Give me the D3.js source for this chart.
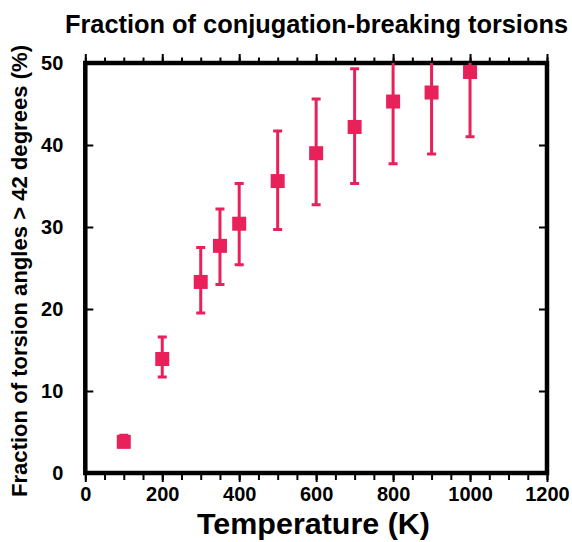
<!DOCTYPE html>
<html>
<head>
<meta charset="utf-8">
<script src="https://cdn.jsdelivr.net/npm/d3@7"></script>
<style>
html,body{margin:0;padding:0;background:#fff;}
svg{display:block;font-family:"Liberation Sans",Arial,sans-serif;font-weight:bold;}
</style>
</head>
<body>
<svg id="chart" width="572" height="542"></svg>
<script>
const temperatures = [100, 200, 300, 350, 400, 500, 600, 700, 800, 900, 1000];
const fractions    = [3.8, 13.9, 23.3, 27.7, 30.4, 35.6, 39.0, 42.2, 45.3, 46.4, 48.9];
const errLow       = [3.2, 11.7, 19.5, 23.0, 25.4, 29.7, 32.7, 35.3, 37.7, 38.9, 41.0];
const errHigh      = [4.6, 16.6, 27.5, 32.2, 35.3, 41.7, 45.6, 49.3, 56.0, 56.0, 56.0];
const xTicks = [0, 200, 400, 600, 800, 1000, 1200];
const xMinorTicks = d3.range(0, 1201, 50);
const yTicks = [0, 10, 20, 30, 40, 50];

const titleText = "Fraction of conjugation-breaking torsions";
const xLabel = "Temperature (K)";
const yLabel = "Fraction of torsion angles > 42 degrees (%)";

const color = "#e8215b";
const svg = d3.select("#chart");
const L = 85.3, R = 547, T = 63, B = 473;
const x = d3.scaleLinear().domain([0, 1200]).range([L, R]);
const y = d3.scaleLinear().domain([0, 50]).range([B, T]);

const data = temperatures.map((t, i) => ({t, v: fractions[i], lo: errLow[i], hi: errHigh[i]}));

svg.append("defs").append("clipPath").attr("id", "clip")
  .append("rect").attr("x", L).attr("y", T).attr("width", R - L).attr("height", B - T);

// axes ticks
const bottomMinor = d3.axisBottom(x).tickValues(xMinorTicks).tickSize(7).tickFormat("");
const bottomMajor = d3.axisBottom(x).tickValues(xTicks).tickSize(9).tickPadding(5).tickFormat(d3.format("d"));
const topMinor = d3.axisTop(x).tickValues(xMinorTicks).tickSize(5.5).tickFormat("");
const topMajor = d3.axisTop(x).tickValues(xTicks).tickSize(9).tickFormat("");
const leftAx = d3.axisLeft(y).tickValues(yTicks).tickSize(-8).tickPadding(22).tickFormat(d3.format("d"));
const rightAx = d3.axisRight(y).tickValues(yTicks).tickSize(-8).tickFormat("");

function style(g, fs) {
  g.select(".domain").remove();
  g.selectAll(".tick line").attr("stroke", "#000").attr("stroke-width", 2);
  g.selectAll(".tick text").attr("fill", "#000").style("font-size", fs + "px").style("font-weight", "bold")
    .style("font-family", '"Liberation Sans",Arial,sans-serif');
}
svg.append("g").attr("transform", `translate(0,${B})`).call(bottomMinor).call(g => style(g, 20));
svg.append("g").attr("transform", `translate(0,${B})`).call(bottomMajor).call(g => style(g, 20));
svg.append("g").attr("transform", `translate(0,${T})`).call(topMinor).call(g => style(g, 20));
svg.append("g").attr("transform", `translate(0,${T})`).call(topMajor).call(g => style(g, 20));
svg.append("g").attr("transform", `translate(${L},0)`).call(leftAx).call(g => style(g, 20));
svg.append("g").attr("transform", `translate(${R},0)`).call(rightAx).call(g => style(g, 20));

// frame
svg.append("rect").attr("x", L).attr("y", T).attr("width", R - L).attr("height", B - T)
  .attr("fill", "none").attr("stroke", "#000").attr("stroke-width", 4.5);

// error bars and markers
const plot = svg.append("g").attr("clip-path", "url(#clip)");
const eb = plot.selectAll("g.eb").data(data).join("g").attr("class", "eb");
eb.append("line").attr("x1", d => x(d.t)).attr("x2", d => x(d.t))
  .attr("y1", d => y(d.lo)).attr("y2", d => y(d.hi)).attr("stroke", color).attr("stroke-width", 3);
eb.append("line").attr("x1", d => x(d.t) - 4.5).attr("x2", d => x(d.t) + 4.5)
  .attr("y1", d => y(d.lo)).attr("y2", d => y(d.lo)).attr("stroke", color).attr("stroke-width", 3);
eb.append("line").attr("x1", d => x(d.t) - 4.5).attr("x2", d => x(d.t) + 4.5)
  .attr("y1", d => y(d.hi)).attr("y2", d => y(d.hi)).attr("stroke", color).attr("stroke-width", 3);
plot.selectAll("rect.pt").data(data).join("rect").attr("class", "pt")
  .attr("x", d => x(d.t) - 7).attr("y", d => y(d.v) - 7).attr("width", 14).attr("height", 14)
  .attr("fill", color);

// texts
svg.append("text").attr("x", 316.5).attr("y", 33).attr("text-anchor", "middle")
  .style("font-size", "25px").attr("textLength", 503).attr("lengthAdjust", "spacingAndGlyphs")
  .text(titleText);
svg.append("text").attr("x", 313.5).attr("y", 534).attr("text-anchor", "middle")
  .style("font-size", "29px").attr("textLength", 233).attr("lengthAdjust", "spacingAndGlyphs")
  .text(xLabel);
svg.append("text").attr("transform", "translate(27,271) rotate(-90)").attr("text-anchor", "middle")
  .style("font-size", "22px").attr("textLength", 452).attr("lengthAdjust", "spacingAndGlyphs")
  .text(yLabel);
</script>
</body>
</html>
